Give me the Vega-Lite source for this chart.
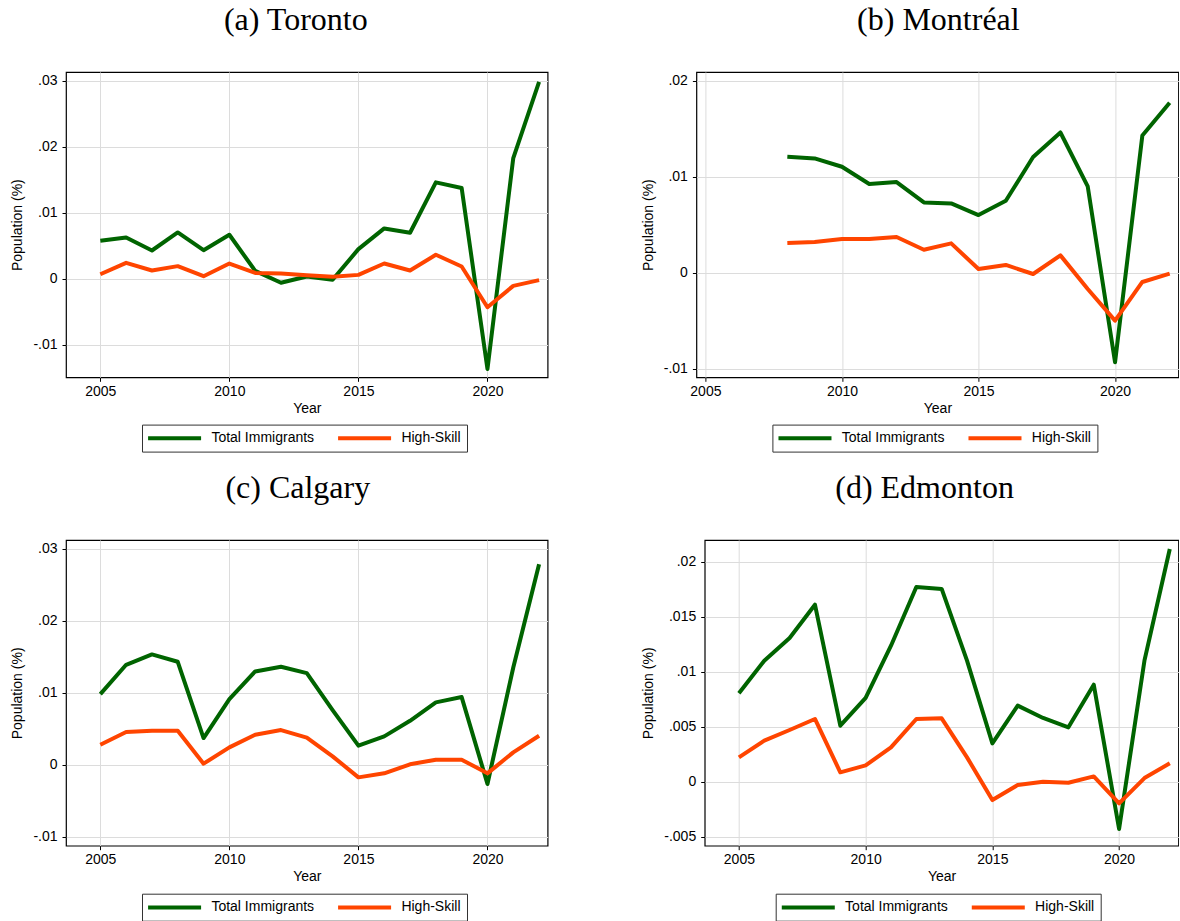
{
  "$schema": "https://vega.github.io/schema/vega-lite/v6.json",
  "background": "white",
  "padding": {"left": 10, "top": 3, "right": 0, "bottom": 0},
  "datasets": {
    "main": [
      {"city": "Toronto", "year": 2005, "series": "Total Immigrants", "value": 0.00576},
      {"city": "Toronto", "year": 2006, "series": "Total Immigrants", "value": 0.00626},
      {"city": "Toronto", "year": 2007, "series": "Total Immigrants", "value": 0.00429},
      {"city": "Toronto", "year": 2008, "series": "Total Immigrants", "value": 0.00702},
      {"city": "Toronto", "year": 2009, "series": "Total Immigrants", "value": 0.00434},
      {"city": "Toronto", "year": 2010, "series": "Total Immigrants", "value": 0.00667},
      {"city": "Toronto", "year": 2011, "series": "Total Immigrants", "value": 0.00121},
      {"city": "Toronto", "year": 2012, "series": "Total Immigrants", "value": -0.0006},
      {"city": "Toronto", "year": 2013, "series": "Total Immigrants", "value": 0.00035},
      {"city": "Toronto", "year": 2014, "series": "Total Immigrants", "value": -0.00015},
      {"city": "Toronto", "year": 2015, "series": "Total Immigrants", "value": 0.0045},
      {"city": "Toronto", "year": 2016, "series": "Total Immigrants", "value": 0.00763},
      {"city": "Toronto", "year": 2017, "series": "Total Immigrants", "value": 0.00697},
      {"city": "Toronto", "year": 2018, "series": "Total Immigrants", "value": 0.0146},
      {"city": "Toronto", "year": 2019, "series": "Total Immigrants", "value": 0.01374},
      {"city": "Toronto", "year": 2020, "series": "Total Immigrants", "value": -0.01364},
      {"city": "Toronto", "year": 2021, "series": "Total Immigrants", "value": 0.01828},
      {"city": "Toronto", "year": 2022, "series": "Total Immigrants", "value": 0.0298},
      {"city": "Toronto", "year": 2005, "series": "High-Skill", "value": 0.0007},
      {"city": "Toronto", "year": 2006, "series": "High-Skill", "value": 0.00242},
      {"city": "Toronto", "year": 2007, "series": "High-Skill", "value": 0.00126},
      {"city": "Toronto", "year": 2008, "series": "High-Skill", "value": 0.00192},
      {"city": "Toronto", "year": 2009, "series": "High-Skill", "value": 0.0004},
      {"city": "Toronto", "year": 2010, "series": "High-Skill", "value": 0.00232},
      {"city": "Toronto", "year": 2011, "series": "High-Skill", "value": 0.0009},
      {"city": "Toronto", "year": 2012, "series": "High-Skill", "value": 0.0008},
      {"city": "Toronto", "year": 2013, "series": "High-Skill", "value": 0.00056},
      {"city": "Toronto", "year": 2014, "series": "High-Skill", "value": 0.0003},
      {"city": "Toronto", "year": 2015, "series": "High-Skill", "value": 0.0006},
      {"city": "Toronto", "year": 2016, "series": "High-Skill", "value": 0.00232},
      {"city": "Toronto", "year": 2017, "series": "High-Skill", "value": 0.00126},
      {"city": "Toronto", "year": 2018, "series": "High-Skill", "value": 0.00364},
      {"city": "Toronto", "year": 2019, "series": "High-Skill", "value": 0.00187},
      {"city": "Toronto", "year": 2020, "series": "High-Skill", "value": -0.0043},
      {"city": "Toronto", "year": 2021, "series": "High-Skill", "value": -0.00106},
      {"city": "Toronto", "year": 2022, "series": "High-Skill", "value": -0.0002},

      {"city": "Montreal", "year": 2008, "series": "Total Immigrants", "value": 0.01207},
      {"city": "Montreal", "year": 2009, "series": "Total Immigrants", "value": 0.0119},
      {"city": "Montreal", "year": 2010, "series": "Total Immigrants", "value": 0.01103},
      {"city": "Montreal", "year": 2011, "series": "Total Immigrants", "value": 0.00923},
      {"city": "Montreal", "year": 2012, "series": "Total Immigrants", "value": 0.00943},
      {"city": "Montreal", "year": 2013, "series": "Total Immigrants", "value": 0.00732},
      {"city": "Montreal", "year": 2014, "series": "Total Immigrants", "value": 0.00721},
      {"city": "Montreal", "year": 2015, "series": "Total Immigrants", "value": 0.006},
      {"city": "Montreal", "year": 2016, "series": "Total Immigrants", "value": 0.00749},
      {"city": "Montreal", "year": 2017, "series": "Total Immigrants", "value": 0.01204},
      {"city": "Montreal", "year": 2018, "series": "Total Immigrants", "value": 0.0146},
      {"city": "Montreal", "year": 2019, "series": "Total Immigrants", "value": 0.00898},
      {"city": "Montreal", "year": 2020, "series": "Total Immigrants", "value": -0.00933},
      {"city": "Montreal", "year": 2021, "series": "Total Immigrants", "value": 0.01429},
      {"city": "Montreal", "year": 2022, "series": "Total Immigrants", "value": 0.01769},
      {"city": "Montreal", "year": 2008, "series": "High-Skill", "value": 0.00309},
      {"city": "Montreal", "year": 2009, "series": "High-Skill", "value": 0.00319},
      {"city": "Montreal", "year": 2010, "series": "High-Skill", "value": 0.0035},
      {"city": "Montreal", "year": 2011, "series": "High-Skill", "value": 0.0035},
      {"city": "Montreal", "year": 2012, "series": "High-Skill", "value": 0.00371},
      {"city": "Montreal", "year": 2013, "series": "High-Skill", "value": 0.00239},
      {"city": "Montreal", "year": 2014, "series": "High-Skill", "value": 0.00305},
      {"city": "Montreal", "year": 2015, "series": "High-Skill", "value": 0.00038},
      {"city": "Montreal", "year": 2016, "series": "High-Skill", "value": 0.0008},
      {"city": "Montreal", "year": 2017, "series": "High-Skill", "value": -0.00014},
      {"city": "Montreal", "year": 2018, "series": "High-Skill", "value": 0.0018},
      {"city": "Montreal", "year": 2019, "series": "High-Skill", "value": -0.0017},
      {"city": "Montreal", "year": 2020, "series": "High-Skill", "value": -0.005},
      {"city": "Montreal", "year": 2021, "series": "High-Skill", "value": -0.00097},
      {"city": "Montreal", "year": 2022, "series": "High-Skill", "value": -0.0001},

      {"city": "Calgary", "year": 2005, "series": "Total Immigrants", "value": 0.0098},
      {"city": "Calgary", "year": 2006, "series": "Total Immigrants", "value": 0.01387},
      {"city": "Calgary", "year": 2007, "series": "Total Immigrants", "value": 0.01531},
      {"city": "Calgary", "year": 2008, "series": "Total Immigrants", "value": 0.01429},
      {"city": "Calgary", "year": 2009, "series": "Total Immigrants", "value": 0.0037},
      {"city": "Calgary", "year": 2010, "series": "Total Immigrants", "value": 0.00911},
      {"city": "Calgary", "year": 2011, "series": "Total Immigrants", "value": 0.01295},
      {"city": "Calgary", "year": 2012, "series": "Total Immigrants", "value": 0.0136},
      {"city": "Calgary", "year": 2013, "series": "Total Immigrants", "value": 0.01272},
      {"city": "Calgary", "year": 2014, "series": "Total Immigrants", "value": 0.00758},
      {"city": "Calgary", "year": 2015, "series": "Total Immigrants", "value": 0.00264},
      {"city": "Calgary", "year": 2016, "series": "Total Immigrants", "value": 0.00393},
      {"city": "Calgary", "year": 2017, "series": "Total Immigrants", "value": 0.0061},
      {"city": "Calgary", "year": 2018, "series": "Total Immigrants", "value": 0.00865},
      {"city": "Calgary", "year": 2019, "series": "Total Immigrants", "value": 0.00939},
      {"city": "Calgary", "year": 2020, "series": "Total Immigrants", "value": -0.00268},
      {"city": "Calgary", "year": 2021, "series": "Total Immigrants", "value": 0.0135},
      {"city": "Calgary", "year": 2022, "series": "Total Immigrants", "value": 0.02784},
      {"city": "Calgary", "year": 2005, "series": "High-Skill", "value": 0.00277},
      {"city": "Calgary", "year": 2006, "series": "High-Skill", "value": 0.00453},
      {"city": "Calgary", "year": 2007, "series": "High-Skill", "value": 0.00472},
      {"city": "Calgary", "year": 2008, "series": "High-Skill", "value": 0.00472},
      {"city": "Calgary", "year": 2009, "series": "High-Skill", "value": 0.00014},
      {"city": "Calgary", "year": 2010, "series": "High-Skill", "value": 0.0024},
      {"city": "Calgary", "year": 2011, "series": "High-Skill", "value": 0.00416},
      {"city": "Calgary", "year": 2012, "series": "High-Skill", "value": 0.00481},
      {"city": "Calgary", "year": 2013, "series": "High-Skill", "value": 0.00375},
      {"city": "Calgary", "year": 2014, "series": "High-Skill", "value": 0.00116},
      {"city": "Calgary", "year": 2015, "series": "High-Skill", "value": -0.00176},
      {"city": "Calgary", "year": 2016, "series": "High-Skill", "value": -0.0012},
      {"city": "Calgary", "year": 2017, "series": "High-Skill", "value": 0.00005},
      {"city": "Calgary", "year": 2018, "series": "High-Skill", "value": 0.00069},
      {"city": "Calgary", "year": 2019, "series": "High-Skill", "value": 0.00069},
      {"city": "Calgary", "year": 2020, "series": "High-Skill", "value": -0.0012},
      {"city": "Calgary", "year": 2021, "series": "High-Skill", "value": 0.00171},
      {"city": "Calgary", "year": 2022, "series": "High-Skill", "value": 0.00402},

      {"city": "Edmonton", "year": 2005, "series": "Total Immigrants", "value": 0.00803},
      {"city": "Edmonton", "year": 2006, "series": "Total Immigrants", "value": 0.011},
      {"city": "Edmonton", "year": 2007, "series": "Total Immigrants", "value": 0.01306},
      {"city": "Edmonton", "year": 2008, "series": "Total Immigrants", "value": 0.01609},
      {"city": "Edmonton", "year": 2009, "series": "Total Immigrants", "value": 0.00509},
      {"city": "Edmonton", "year": 2010, "series": "Total Immigrants", "value": 0.00761},
      {"city": "Edmonton", "year": 2011, "series": "Total Immigrants", "value": 0.01236},
      {"city": "Edmonton", "year": 2012, "series": "Total Immigrants", "value": 0.0177},
      {"city": "Edmonton", "year": 2013, "series": "Total Immigrants", "value": 0.01752},
      {"city": "Edmonton", "year": 2014, "series": "Total Immigrants", "value": 0.011},
      {"city": "Edmonton", "year": 2015, "series": "Total Immigrants", "value": 0.00348},
      {"city": "Edmonton", "year": 2016, "series": "Total Immigrants", "value": 0.00691},
      {"city": "Edmonton", "year": 2017, "series": "Total Immigrants", "value": 0.00579},
      {"city": "Edmonton", "year": 2018, "series": "Total Immigrants", "value": 0.00494},
      {"city": "Edmonton", "year": 2019, "series": "Total Immigrants", "value": 0.00882},
      {"city": "Edmonton", "year": 2020, "series": "Total Immigrants", "value": -0.0043},
      {"city": "Edmonton", "year": 2021, "series": "Total Immigrants", "value": 0.011},
      {"city": "Edmonton", "year": 2022, "series": "Total Immigrants", "value": 0.02115},
      {"city": "Edmonton", "year": 2005, "series": "High-Skill", "value": 0.00221},
      {"city": "Edmonton", "year": 2006, "series": "High-Skill", "value": 0.00373},
      {"city": "Edmonton", "year": 2007, "series": "High-Skill", "value": 0.0047},
      {"city": "Edmonton", "year": 2008, "series": "High-Skill", "value": 0.0057},
      {"city": "Edmonton", "year": 2009, "series": "High-Skill", "value": 0.00085},
      {"city": "Edmonton", "year": 2010, "series": "High-Skill", "value": 0.00148},
      {"city": "Edmonton", "year": 2011, "series": "High-Skill", "value": 0.00312},
      {"city": "Edmonton", "year": 2012, "series": "High-Skill", "value": 0.0057},
      {"city": "Edmonton", "year": 2013, "series": "High-Skill", "value": 0.00576},
      {"city": "Edmonton", "year": 2014, "series": "High-Skill", "value": 0.00221},
      {"city": "Edmonton", "year": 2015, "series": "High-Skill", "value": -0.00167},
      {"city": "Edmonton", "year": 2016, "series": "High-Skill", "value": -0.0003},
      {"city": "Edmonton", "year": 2017, "series": "High-Skill", "value": 0.0},
      {"city": "Edmonton", "year": 2018, "series": "High-Skill", "value": -0.0001},
      {"city": "Edmonton", "year": 2019, "series": "High-Skill", "value": 0.00048},
      {"city": "Edmonton", "year": 2020, "series": "High-Skill", "value": -0.00197},
      {"city": "Edmonton", "year": 2021, "series": "High-Skill", "value": 0.00033},
      {"city": "Edmonton", "year": 2022, "series": "High-Skill", "value": 0.00167}
    ]
  },
  "data": {"name": "main"},
  "config": {
    "view": {"stroke": "#000", "strokeWidth": 1.2},
    "title": {"font": "Liberation Serif", "fontSize": 32, "fontWeight": "normal", "color": "#000", "baseline": "alphabetic", "offset": 35, "frame": "group", "anchor": "middle"},
    "axis": {
      "labelFont": "Liberation Sans", "labelFontSize": 14, "labelColor": "#000",
      "titleFont": "Liberation Sans", "titleFontSize": 14, "titleFontWeight": "normal", "titleColor": "#000",
      "tickColor": "#000", "tickSize": 4, "domain": false,
      "grid": true, "gridColor": "#dcdcdc", "gridWidth": 1
    },
    "axisX": {"labelPadding": 3, "titlePadding": 3},
    "axisY": {"labelPadding": 5, "titlePadding": 8},
    "legend": {
      "labelFont": "Liberation Sans", "labelFontSize": 14, "labelColor": "#000",
      "symbolType": "M-1.4,0H8.6", "symbolStrokeWidth": 4, "symbolSize": 112.4,
      "strokeColor": "#333", "fillColor": "white", "padding": 6,
      "columnPadding": 21, "labelOffset": 48.4, "labelLimit": 300,
      "orient": "none", "direction": "horizontal", "title": null
    },
    "line": {"strokeWidth": 4, "strokeJoin": "round"}
  },
  "resolve": {"legend": {"color": "independent"}},
  "spacing": 18,
  "vconcat": [
    {
      "hconcat": [
        {
          "width": 481.6, "height": 305.3,
          "title": {"text": "(a) Toronto", "dx": -11},
          "transform": [{"filter": "datum.city === 'Toronto'"}],
          "mark": {"type": "line"},
          "encoding": {
            "x": {"field": "year", "type": "quantitative", "scale": {"domain": [2003.67, 2022.33], "nice": false, "zero": false}, "axis": {"values": [2005, 2010, 2015, 2020], "format": "d", "title": "Year"}},
            "y": {"field": "value", "type": "quantitative", "scale": {"domain": [-0.0149, 0.0313], "nice": false, "zero": false}, "axis": {"values": [-0.01, 0, 0.01, 0.02, 0.03], "title": "Population (%)", "labelExpr": "datum.value == 0 ? '0' : (datum.value < 0 ? '-' : '') + replace(format(abs(datum.value), '.3~f'), '0.', '.')"}},
            "color": {"field": "series", "type": "nominal", "scale": {"domain": ["Total Immigrants", "High-Skill"], "range": ["#006400", "#ff4500"]}, "legend": {"legendX": 76, "legendY": 352.6}}
          }
        },
        {
          "width": 482, "height": 305.3,
          "title": {"text": "(b) Montréal", "dx": 1},
          "transform": [{"filter": "datum.city === 'Montreal'"}],
          "mark": {"type": "line"},
          "encoding": {
            "x": {"field": "year", "type": "quantitative", "scale": {"domain": [2004.67, 2022.32], "nice": false, "zero": false}, "axis": {"values": [2005, 2010, 2015, 2020], "format": "d", "title": "Year"}},
            "y": {"field": "value", "type": "quantitative", "scale": {"domain": [-0.0109, 0.0209], "nice": false, "zero": false}, "axis": {"values": [-0.01, 0, 0.01, 0.02], "title": "Population (%)", "labelExpr": "datum.value == 0 ? '0' : (datum.value < 0 ? '-' : '') + replace(format(abs(datum.value), '.3~f'), '0.', '.')"}},
            "color": {"field": "series", "type": "nominal", "scale": {"domain": ["Total Immigrants", "High-Skill"], "range": ["#006400", "#ff4500"]}, "legend": {"legendX": 76, "legendY": 352.6}}
          }
        }
      ],
      "spacing": 148.4,
      "bounds": "flush",
      "resolve": {"legend": {"color": "independent"}}
    },
    {
      "hconcat": [
        {
          "width": 481.6, "height": 305.7,
          "title": {"text": "(c) Calgary", "dx": -9},
          "transform": [{"filter": "datum.city === 'Calgary'"}],
          "mark": {"type": "line"},
          "encoding": {
            "x": {"field": "year", "type": "quantitative", "scale": {"domain": [2003.67, 2022.33], "nice": false, "zero": false}, "axis": {"values": [2005, 2010, 2015, 2020], "format": "d", "title": "Year"}},
            "y": {"field": "value", "type": "quantitative", "scale": {"domain": [-0.01125, 0.0312], "nice": false, "zero": false}, "axis": {"values": [-0.01, 0, 0.01, 0.02, 0.03], "title": "Population (%)", "labelExpr": "datum.value == 0 ? '0' : (datum.value < 0 ? '-' : '') + replace(format(abs(datum.value), '.3~f'), '0.', '.')"}},
            "color": {"field": "series", "type": "nominal", "scale": {"domain": ["Total Immigrants", "High-Skill"], "range": ["#006400", "#ff4500"]}, "legend": {"legendX": 76, "legendY": 353.7}}
          }
        },
        {
          "width": 473.7, "height": 305.7,
          "title": {"text": "(d) Edmonton", "dx": -17},
          "transform": [{"filter": "datum.city === 'Edmonton'"}],
          "mark": {"type": "line"},
          "encoding": {
            "x": {"field": "year", "type": "quantitative", "scale": {"domain": [2003.65, 2022.34], "nice": false, "zero": false}, "axis": {"values": [2005, 2010, 2015, 2020], "format": "d", "title": "Year"}},
            "y": {"field": "value", "type": "quantitative", "scale": {"domain": [-0.00582, 0.02197], "nice": false, "zero": false}, "axis": {"values": [-0.005, 0, 0.005, 0.01, 0.015, 0.02], "title": "Population (%)", "labelExpr": "datum.value == 0 ? '0' : (datum.value < 0 ? '-' : '') + replace(format(abs(datum.value), '.3~f'), '0.', '.')"}},
            "color": {"field": "series", "type": "nominal", "scale": {"domain": ["Total Immigrants", "High-Skill"], "range": ["#006400", "#ff4500"]}, "legend": {"legendX": 71, "legendY": 353.7}}
          }
        }
      ],
      "spacing": 156.7,
      "bounds": "flush",
      "resolve": {"legend": {"color": "independent"}}
    }
  ]
}
